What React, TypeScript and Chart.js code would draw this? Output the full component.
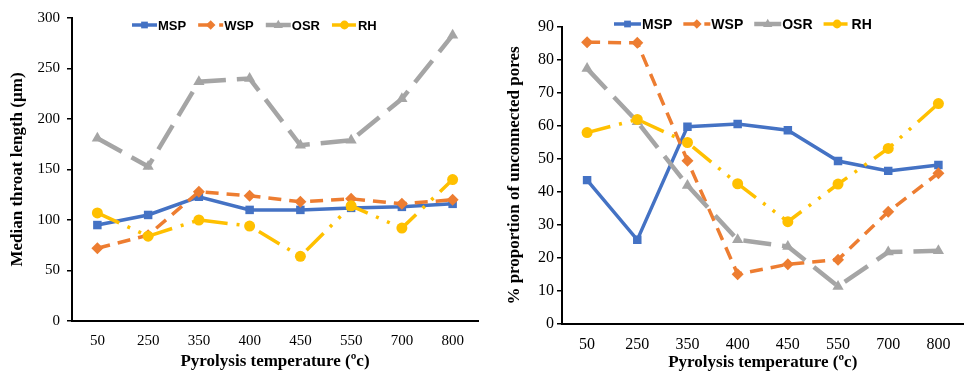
import React, { useEffect, useRef } from "react";
import { Chart, registerables } from "chart.js";

Chart.register(...registerables);

const categories = ["50", "250", "350", "400", "450", "550", "700", "800"];
const seriesNames = ["MSP", "WSP", "OSR", "RH"];

// Left chart: median throat length (µm)
const throatMSP = [95, 105, 123, 110, 110, 112, 113, 116];
const throatWSP = [72, 85, 128, 124, 118, 121, 116, 120];
const throatOSR = [181, 153, 237, 240, 174, 179, 220, 283];
const throatRH = [107, 84, 100, 94, 64, 114, 92, 140];

// Right chart: % proportion of unconnected pores
const poresMSP = [43.6, 25.5, 59.8, 60.6, 58.7, 49.4, 46.4, 48.2];
const poresWSP = [85.4, 85.2, 49.5, 15.1, 18.1, 19.5, 34, 45.7];
const poresOSR = [77.4, 61.3, 42, 25.5, 23.5, 11.4, 21.8, 22.2];
const poresRH = [58, 62, 55, 42.5, 31, 42.4, 53.2, 66.8];

const COLORS = ["#4472C4", "#ED7D31", "#A5A5A5", "#FFC000"];
const DASHES: number[][] = [[], [13, 8], [28, 11], [24, 9, 3, 9, 3, 9]];
const WIDTHS = [3.5, 3.5, 4.5, 3.5];
const POINTS = ["rect", "rectRot", "triangle", "circle"];
const RADII = [6, 6, 6.5, 5.5];

function makeDatasets(values: number[][]) {
  return values.map((data, i) => ({
    label: seriesNames[i],
    data,
    borderColor: COLORS[i],
    backgroundColor: COLORS[i],
    borderWidth: WIDTHS[i],
    borderDash: DASHES[i],
    pointStyle: POINTS[i],
    pointRadius: RADII[i],
    pointBorderWidth: 0,
    pointBackgroundColor: COLORS[i],
    tension: 0,
    order: 4 - i,
  }));
}

function drawMarker(ctx: CanvasRenderingContext2D, style: string, x: number, y: number, r: number) {
  ctx.beginPath();
  if (style === "rect") {
    const s = r * 1.4;
    ctx.rect(x - s / 2, y - s / 2, s, s);
  } else if (style === "rectRot") {
    ctx.moveTo(x, y - r);
    ctx.lineTo(x + r, y);
    ctx.lineTo(x, y + r);
    ctx.lineTo(x - r, y);
    ctx.closePath();
  } else if (style === "triangle") {
    ctx.moveTo(x, y - r);
    ctx.lineTo(x + r * 0.9, y + r * 0.6);
    ctx.lineTo(x - r * 0.9, y + r * 0.6);
    ctx.closePath();
  } else {
    ctx.arc(x, y, r, 0, Math.PI * 2);
  }
  ctx.fill();
}

const legendPlugin = {
  id: "customLegend",
  afterDatasetsDraw(chart: any, _args: any, opts: any) {
    const ctx = chart.ctx;
    const area = chart.chartArea;
    let x = area.left + opts.offsetX;
    const y = opts.y;
    ctx.save();
    ctx.font = `bold ${opts.fontSize}px "Liberation Sans", Arial, sans-serif`;
    ctx.textBaseline = "middle";
    chart.data.datasets.forEach((ds: any) => {
      ctx.save();
      ctx.strokeStyle = ds.borderColor;
      ctx.lineWidth = ds.borderWidth;
      ctx.setLineDash(ds.borderDash || []);
      ctx.beginPath();
      ctx.moveTo(x, y);
      ctx.lineTo(x + opts.lineLen, y);
      ctx.stroke();
      ctx.restore();
      ctx.save();
      ctx.fillStyle = ds.borderColor;
      drawMarker(ctx, ds.pointStyle, x + opts.lineLen / 2, y, ds.pointRadius * 0.8);
      ctx.restore();
      const tx = x + opts.lineLen + 1;
      ctx.fillStyle = "#000";
      ctx.fillText(ds.label, tx, y + 1);
      const w = ctx.measureText(ds.label).width;
      x = tx + w + opts.gap;
    });
    ctx.restore();
  },
};

type Cfg = {
  values: number[][];
  yMax: number;
  yStep: number;
  yTitle: string;
  yAxisWidth: number;
  xAxisHeight: number;
  padTop: number;
  padRight: number;
  tickSize: number;
  titleSize: number;
  yTitlePad: number;
  xTitlePad: number;
  yTickPad: number;
  xTickPad: number;
  legendX: number;
  legendY: number;
  legendFont: number;
  legendLine: number;
  legendGap: number;
};

function LineChart({ cfg, width, height }: { cfg: Cfg; width: number; height: number }) {
  const ref = useRef<HTMLCanvasElement>(null);
  useEffect(() => {
    if (!ref.current) return;
    const serif = '"Liberation Serif", "Times New Roman", serif';
    const chart = new Chart(ref.current, {
      type: "line",
      data: { labels: categories, datasets: makeDatasets(cfg.values) as any },
      plugins: [legendPlugin as any],
      options: {
        responsive: false,
        animation: false,
        devicePixelRatio: 1,
        layout: { padding: { top: cfg.padTop, right: cfg.padRight, left: 0, bottom: 0 } },
        plugins: {
          legend: { display: false },
          tooltip: { enabled: false },
          customLegend: {
            offsetX: cfg.legendX,
            y: cfg.legendY,
            fontSize: cfg.legendFont,
            lineLen: cfg.legendLine,
            gap: cfg.legendGap,
          },
        } as any,
        scales: {
          x: {
            type: "category",
            offset: true,
            grid: { display: false },
            border: { display: true, color: "#000", width: 2 },
            ticks: { color: "#000", font: { family: serif, size: cfg.tickSize }, padding: cfg.xTickPad, maxRotation: 0 },
            title: {
              display: true,
              text: "Pyrolysis temperature (ºc)",
              color: "#000",
              font: { family: serif, size: cfg.titleSize, weight: "bold" },
              padding: { top: 0, bottom: cfg.xTitlePad },
            },
            afterFit: (s: any) => {
              s.height = cfg.xAxisHeight;
            },
          },
          y: {
            min: 0,
            max: cfg.yMax,
            grid: { display: true, drawOnChartArea: false, drawTicks: true, tickLength: 5, color: "#000", lineWidth: 1.5 },
            border: { display: true, color: "#000", width: 2 },
            ticks: { stepSize: cfg.yStep, color: "#000", font: { family: serif, size: cfg.tickSize }, padding: cfg.yTickPad },
            title: {
              display: true,
              text: cfg.yTitle,
              color: "#000",
              font: { family: serif, size: cfg.titleSize, weight: "bold" },
              padding: { top: cfg.yTitlePad, bottom: 0 },
            },
            afterFit: (s: any) => {
              s.width = cfg.yAxisWidth;
            },
          },
        },
      } as any,
    });
    return () => chart.destroy();
  }, [cfg]);
  return <canvas ref={ref} width={width} height={height} style={{ display: "block", width, height }} />;
}

const leftCfg: Cfg = {
  values: [throatMSP, throatWSP, throatOSR, throatRH],
  yMax: 300,
  yStep: 50,
  yTitle: "Median throat length (µm)",
  yAxisWidth: 72,
  xAxisHeight: 53,
  padTop: 18,
  padRight: 8,
  tickSize: 15,
  titleSize: 17,
  yTitlePad: 7,
  xTitlePad: 2,
  yTickPad: 7,
  xTickPad: 3,
  legendX: 60,
  legendY: 25,
  legendFont: 13,
  legendLine: 25,
  legendGap: 12,
};

const rightCfg: Cfg = {
  values: [poresMSP, poresWSP, poresOSR, poresRH],
  yMax: 90,
  yStep: 10,
  yTitle: "% proportion of unconnected pores",
  yAxisWidth: 76,
  xAxisHeight: 50,
  padTop: 27,
  padRight: 0,
  tickSize: 16,
  titleSize: 17,
  yTitlePad: 18,
  xTitlePad: 1,
  yTickPad: 3,
  xTickPad: 3,
  legendX: 52,
  legendY: 24,
  legendFont: 14,
  legendLine: 27,
  legendGap: 11,
};

export default function App() {
  return (
    <div
      style={{
        position: "fixed",
        left: 0,
        top: 0,
        width: 966,
        height: 374,
        overflow: "hidden",
        background: "#fff",
      }}
    >
      <div style={{ position: "absolute", left: 0, top: 0 }}>
        <LineChart cfg={leftCfg} width={486} height={374} />
      </div>
      <div style={{ position: "absolute", left: 486, top: 0 }}>
        <LineChart cfg={rightCfg} width={484} height={374} />
      </div>
    </div>
  );
}
